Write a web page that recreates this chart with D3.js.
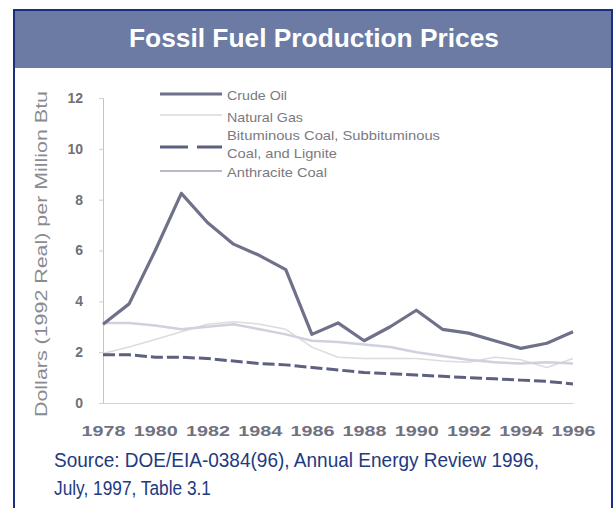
<!DOCTYPE html>
<html>
<head>
<meta charset="utf-8">
<script src="https://cdn.jsdelivr.net/npm/d3@7"></script>
<style>
  body { margin: 0; background: #fff; }
</style>
</head>
<body>
<script>
const width = 615;
const height = 508;

// data (1992 dollars per million Btu)
const years = d3.range(1978, 1997);
const crudeOil = [3.1, 3.9, 6.0, 8.25, 7.1, 6.25, 5.8, 5.25, 2.7, 3.15, 2.45, 3.0, 3.65, 2.9, 2.75, 2.45, 2.15, 2.35, 2.8];
const naturalGas = [1.95, 2.2, 2.5, 2.8, 3.1, 3.2, 3.1, 2.9, 2.2, 1.8, 1.75, 1.75, 1.75, 1.65, 1.6, 1.8, 1.7, 1.4, 1.75];
const bituminous = [1.9, 1.9, 1.8, 1.8, 1.75, 1.65, 1.55, 1.5, 1.4, 1.3, 1.2, 1.15, 1.1, 1.05, 1.0, 0.95, 0.9, 0.85, 0.75];
const anthracite = [3.15, 3.15, 3.05, 2.9, 3.0, 3.1, 2.9, 2.7, 2.45, 2.4, 2.3, 2.2, 2.0, 1.85, 1.7, 1.6, 1.55, 1.6, 1.55];
const yTicks = [0, 2, 4, 6, 8, 10, 12];
const xTicks = d3.range(1978, 1997, 2);

const series = [
  { name: 'Natural Gas', values: naturalGas, color: '#dcdcdc', w: 1.5, dash: null },
  { name: 'Anthracite Coal', values: anthracite, color: '#cfd1dc', w: 2.5, dash: null },
  { name: 'Bituminous', values: bituminous, color: '#5d6080', w: 3, dash: '12,4' },
  { name: 'Crude Oil', values: crudeOil, color: '#6e7189', w: 3.2, dash: null }
];

const svg = d3.create('svg')
  .attr('width', width)
  .attr('height', height)
  .style('background-color', '#fff');

document.body.appendChild(svg.node());

// frame + title band
svg.append('rect')
  .attr('x', 14).attr('y', 10)
  .attr('width', 598).attr('height', 520)
  .attr('fill', '#fff')
  .attr('stroke', '#1b2f7c')
  .attr('stroke-width', 2);

svg.append('rect')
  .attr('x', 15).attr('y', 11)
  .attr('width', 596).attr('height', 57)
  .attr('fill', '#6b7ba4');

svg.append('text')
  .attr('x', 314).attr('y', 47)
  .attr('text-anchor', 'middle')
  .attr('font-family', 'Liberation Sans, Arial, sans-serif')
  .attr('font-weight', 'bold')
  .attr('font-size', 25)
  .attr('textLength', 370)
  .attr('lengthAdjust', 'spacingAndGlyphs')
  .attr('fill', '#fff')
  .text('Fossil Fuel Production Prices');

// scales
const x = d3.scaleLinear().domain([1978, 1996]).range([103, 573]);
const y = d3.scaleLinear().domain([0, 12]).range([403, 98]);

// axes
const yAxis = svg.append('g')
  .attr('transform', 'translate(103,0)')
  .call(d3.axisLeft(y).tickValues(yTicks).tickSize(4).tickPadding(16));
yAxis.select('.domain').attr('stroke', '#c4c4c8');
yAxis.selectAll('.tick line').attr('stroke', '#d0d0d4');
yAxis.selectAll('text')
  .attr('font-family', 'Liberation Sans, Arial, sans-serif')
  .attr('font-weight', 'bold')
  .attr('font-size', 14)
  .attr('fill', '#707078');

const xAxis = svg.append('g')
  .attr('transform', 'translate(0,403)')
  .call(d3.axisBottom(x).tickValues(xTicks).tickFormat(d3.format('d')).tickSize(0).tickPadding(22));
xAxis.select('.domain').attr('stroke', '#d4d4d8');
xAxis.selectAll('text')
  .attr('font-family', 'Liberation Sans, Arial, sans-serif')
  .attr('font-weight', 'bold')
  .attr('font-size', 15)
  .attr('textLength', 44)
  .attr('lengthAdjust', 'spacingAndGlyphs')
  .attr('fill', '#6f7280');

svg.append('text')
  .attr('transform', 'translate(47,254) rotate(-90)')
  .attr('text-anchor', 'middle')
  .attr('font-family', 'Liberation Sans, Arial, sans-serif')
  .attr('font-size', 17)
  .attr('textLength', 326)
  .attr('lengthAdjust', 'spacingAndGlyphs')
  .attr('fill', '#8a8a90')
  .text('Dollars (1992 Real) per Million Btu');

// lines
const line = d3.line()
  .x((d, i) => x(years[i]))
  .y(d => y(d));

svg.selectAll('.series')
  .data(series)
  .enter()
  .append('path')
  .attr('class', 'series')
  .attr('d', d => line(d.values))
  .attr('fill', 'none')
  .attr('stroke', d => d.color)
  .attr('stroke-width', d => d.w)
  .attr('stroke-dasharray', d => d.dash)
  .attr('stroke-linejoin', 'round');

// legend
const legend = [
  { label: ['Crude Oil'], widths: [60], y: 94, ty: [100], color: '#6e7189', w: 3, dash: null },
  { label: ['Natural Gas'], widths: [76], y: 115, ty: [122], color: '#c8c8cc', w: 1.2, dash: null },
  { label: ['Bituminous Coal, Subbituminous', 'Coal, and Lignite'], widths: [213, 110], y: 147, ty: [140, 158], color: '#5d6080', w: 3, dash: '28,9' },
  { label: ['Anthracite Coal'], widths: [100], y: 171, ty: [177], color: '#b8bac8', w: 2, dash: null }
];

const lg = svg.selectAll('.legend')
  .data(legend)
  .enter()
  .append('g')
  .attr('class', 'legend');

lg.append('line')
  .attr('x1', 160).attr('x2', 222)
  .attr('y1', d => d.y).attr('y2', d => d.y)
  .attr('stroke', d => d.color)
  .attr('stroke-width', d => d.w)
  .attr('stroke-dasharray', d => d.dash);

lg.each(function (d) {
  const g = d3.select(this);
  d.label.forEach((t, i) => {
    g.append('text')
      .attr('x', 227)
      .attr('y', d.ty[i])
      .attr('font-family', 'Liberation Sans, Arial, sans-serif')
      .attr('font-size', 13)
      .attr('textLength', d.widths[i])
      .attr('lengthAdjust', 'spacingAndGlyphs')
      .attr('fill', '#7a7a82')
      .text(t);
  });
});

// source note
const src = ['Source:  DOE/EIA-0384(96), Annual Energy Review 1996,', 'July, 1997, Table 3.1'];
const srcWidths = [485, 157];
svg.selectAll('.src')
  .data(src)
  .enter()
  .append('text')
  .attr('class', 'src')
  .attr('x', 54)
  .attr('y', (d, i) => 467 + i * 28)
  .attr('font-family', 'Liberation Sans Narrow, Arial Narrow, sans-serif')
  .attr('font-size', 20)
  .attr('textLength', (d, i) => srcWidths[i])
  .attr('lengthAdjust', 'spacingAndGlyphs')
  .attr('fill', '#1e3a80')
  .text(d => d);
</script>
</body>
</html>
